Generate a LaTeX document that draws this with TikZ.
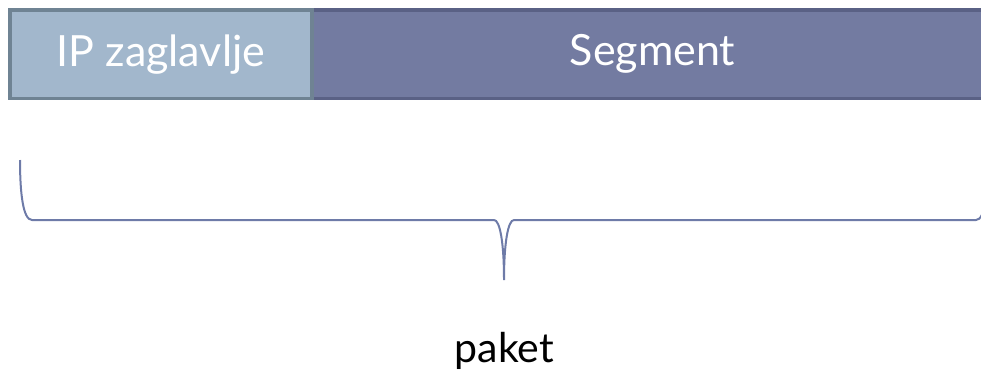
\documentclass[tikz,border=0pt]{standalone}
\usepackage{fontspec}
\setmainfont{Lato}
\definecolor{HeaderBlue}{HTML}{A2B7CC}
\definecolor{HeaderEdge}{HTML}{6F8393}
\definecolor{SegmentBlue}{HTML}{737BA1}
\definecolor{SegmentEdge}{HTML}{5A6185}
\definecolor{BraceBlue}{HTML}{6E7BA8}

\begin{document}
\begin{tikzpicture}[x=1pt, y=1pt,
    fieldbox/.style={rectangle, line width=3.5pt, minimum height=88.5pt,
                     inner sep=0pt, text=white, font=\fontsize{43}{50}\selectfont}]
    % Fixed canvas, same size as the slide region
    \useasboundingbox (0,0) rectangle (981,373);
    \clip (0,0) rectangle (981,373);

    % Segment first so the header border sits on top of it
    \node[fieldbox, fill=SegmentBlue, draw=SegmentEdge,
          minimum width=681pt] (seg) at (652.5,318.75) {Segment};
    \node[fieldbox, fill=HeaderBlue, draw=HeaderEdge,
          minimum width=302pt] (ip) at (161,318.75) {IP zaglavlje};

    % Curly brace under the whole packet
    \coordinate (bl) at (20,213);
    \coordinate (br) at (988,213);
    \coordinate (tip) at (504,93);
    \draw[BraceBlue, line width=2pt]
        (bl) .. controls (20,180) and (23,153) .. (32,153)
        -- (494,153) .. controls (500,153) and (504,130) .. (tip)
        .. controls (504,130) and (508,153) .. (514,153)
        -- (976,153) .. controls (985,153) and (988,180) .. (br);

    % Label of the whole
    \node[anchor=base, font=\fontsize{41}{48}\selectfont] (paket) at (504.5,11) {paket};
\end{tikzpicture}
\end{document}
